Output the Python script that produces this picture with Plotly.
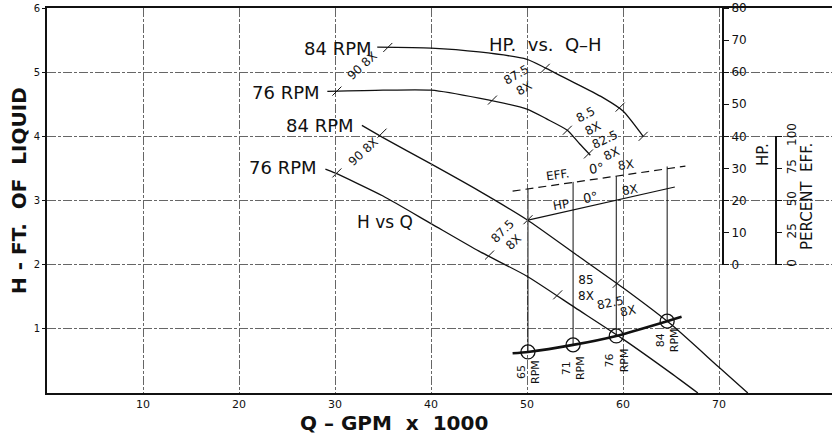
import plotly.graph_objects as go

# ---------------- data ----------------
# Head vs capacity curves (Q in 1000 GPM, H in ft)
q_h84 = [32.8, 35, 40, 45, 50, 55, 60, 65, 70, 73.0]
h_h84 = [4.17, 3.98, 3.57, 3.15, 2.70, 2.17, 1.64, 1.07, 0.40, 0.0]
q_h76 = [29.0, 30, 35, 40, 45, 50, 55, 60, 65, 67.8]
h_h76 = [3.49, 3.43, 3.07, 2.64, 2.21, 1.82, 1.33, 0.84, 0.31, 0.0]

# Horsepower vs Q-H curves (HP)
q_hp84 = [34.4, 40, 45, 50, 52, 55, 58, 60, 62.1]
hp_hp84 = [67.8, 67.5, 66.3, 64.0, 61.2, 56.6, 51.9, 47.9, 40.0]
q_hp76 = [29.2, 35, 40, 45, 50, 52, 54.2, 55.5, 56.6]
hp_hp76 = [54.0, 54.4, 54.4, 51.9, 48.5, 45.5, 41.9, 37.6, 34.1]

# Efficiency at 0 deg blade setting (percent)
q_eff = [48.5, 66.5]
eff = [57.3, 76.8]
# HP at 0 deg blade setting
q_hp0 = [50.1, 65.4]
hp0 = [13.9, 24.2]

# System curve and operating points
q_sys = [48.5, 50.1, 54.8, 59.3, 64.6, 66.1]
h_sys = [0.62, 0.64, 0.75, 0.89, 1.12, 1.19]
q_op = [50.1, 54.8, 59.3, 64.6]
h_op = [0.64, 0.75, 0.89, 1.12]
eff_op = [59.3, 64.5, 69.0, 76.5]
rpm_op = ["65", "71", "76", "84"]

# efficiency tick marks on curves
tick_h84 = ([34.9, 50.1, 59.4], [4.05, 2.70, 1.71])
tick_h76 = ([30.2, 46.1, 53.2], [3.43, 2.15, 1.53])
tick_hp84 = ([35.5, 51.9, 59.7, 62.1], [67.7, 61.2, 49.1, 40.0])
tick_hp76 = ([30.2, 46.4, 54.2, 56.4], [54.1, 51.3, 41.9, 34.5])

x_ticks = [10, 20, 30, 40, 50, 60, 70]
y_ticks = [1, 2, 3, 4, 5, 6]
hp_ticks = [0, 10, 20, 30, 40, 50, 60, 70, 80]
eff_ticks = [0, 25, 50, 75, 100]

FONT = "DejaVu Sans"
BLK = "#111"

fig = go.Figure()

def line(x, y, yaxis="y", width=1.3, dash="solid"):
    fig.add_trace(go.Scatter(x=x, y=y, yaxis=yaxis, mode="lines",
                             line=dict(color=BLK, width=width, dash=dash, shape="spline", smoothing=0.6),
                             hoverinfo="skip", showlegend=False))

def ticks(xy, yaxis="y", sym="line-ne"):
    fig.add_trace(go.Scatter(x=xy[0], y=xy[1], yaxis=yaxis, mode="markers",
                             marker=dict(symbol=sym, size=9, line=dict(color=BLK, width=1)),
                             hoverinfo="skip", showlegend=False))

line(q_h84, h_h84)
line(q_h76, h_h76)
line(q_hp84, hp_hp84, "y2")
line(q_hp76, hp_hp76, "y2")
line(q_eff, eff, "y3", width=1.2, dash="8px,5px")
line(q_hp0, hp0, "y2", width=1.2)
line(q_sys, h_sys, width=2.6)

# vertical construction lines from operating points up to the efficiency line
vx, vy = [], []
for q, h, e in zip(q_op, h_op, eff_op):
    vx += [q, q, None]
    vy += [h, 2 + e / 50.0, None]
fig.add_trace(go.Scatter(x=vx, y=vy, mode="lines", line=dict(color=BLK, width=1),
                         hoverinfo="skip", showlegend=False))

fig.add_trace(go.Scatter(x=q_op, y=h_op, mode="markers",
                         marker=dict(symbol="circle-open", size=14, color=BLK, line=dict(width=1.3)),
                         hoverinfo="skip", showlegend=False))

ticks(tick_h84)
ticks(tick_h76)
ticks(tick_hp84, "y2")
ticks(tick_hp76, "y2")

def px2q(px):
    return (px - 47) / 9.6

def py2h(py):
    return (393 - py) / 64.2

def ann(text, px, py, size=12, angle=0, bold=False):
    t = "<b>%s</b>" % text if bold else text
    fig.add_annotation(x=px2q(px), y=py2h(py), xref="x", yref="y", text=t, showarrow=False,
                       textangle=angle, xanchor="center", yanchor="middle",
                       font=dict(family=FONT, size=size, color=BLK))

ann("84 RPM", 338, 48, 18)
ann("76 RPM", 286, 92, 18)
ann("84 RPM", 320, 125, 18)
ann("76 RPM", 283, 167, 18)
ann("HP.  vs.  Q\u2013H", 545, 44, 18)
ann("H vs Q", 385, 222, 17)
ann("90 8X", 362, 66, 12, -42)
ann("90 8X", 363, 152, 12, -42)
ann("87.5<br>8X", 520, 82, 12, -30)
ann("87.5<br>8X", 508, 237, 12, -45)
ann("8.5<br>8X", 589, 122, 12, -28)
ann("82.5<br>8X", 608, 147, 12, -25)
ann("EFF.", 557, 175, 12, -8)
ann("0\u00b0", 596, 168, 13, -8)
ann("8X", 626, 165, 12, -8)
ann("HP", 561, 205, 12, -10)
ann("0\u00b0", 590, 197, 13, -10)
ann("8X", 630, 190, 12, -10)
ann("85<br>8X", 586, 288, 12, 0)
ann("82.5", 610, 303, 12, -12)
ann("8X", 628, 311, 12, -12)
for q, lab, py in zip(q_op, rpm_op, [372, 368, 360, 340]):
    fig.add_annotation(x=q, y=py2h(py), xref="x", yref="y", text="%s<br>RPM" % lab,
                       showarrow=False, textangle=-90, xanchor="center", yanchor="middle",
                       font=dict(family=FONT, size=11, color=BLK))

def pann(text, px, py, size, angle=0):
    fig.add_annotation(xref="paper", yref="paper", x=(px - 47) / 785, y=(393 - py) / 385,
                       text=text, textangle=angle, showarrow=False,
                       xanchor="center", yanchor="middle",
                       font=dict(family=FONT, size=size, color=BLK))

# axis titles
pann("<b>H - FT.  OF  LIQUID</b>", 19, 191, 20, -90)
pann("<b>Q \u2013 GPM  x  1000</b>", 394, 423, 20)
pann("HP.", 763, 155, 15, -90)
pann("PERCENT  EFF.", 807, 197, 15, -90)

grid = dict(showgrid=True, gridcolor="#666", gridwidth=1, griddash="9px,2px,3px,2px", zeroline=False)
fig.update_layout(
    width=832, height=436,
    margin=dict(l=47, r=0, t=8, b=43, autoexpand=False),
    paper_bgcolor="white", plot_bgcolor="rgba(0,0,0,0)",
    font=dict(family=FONT, color=BLK),
    xaxis=dict(range=[0, 785 / 9.6], tickvals=x_ticks, showline=True, linecolor=BLK,
               linewidth=2, mirror=True, ticks="", tickfont=dict(size=11), automargin=False, **grid),
    yaxis=dict(range=[0, 6], tickvals=y_ticks, showline=True, linecolor=BLK, linewidth=2,
               ticks="outside", ticklen=3, tickcolor=BLK, tickfont=dict(size=10),
               automargin=False, **grid),
    yaxis2=dict(domain=[1 / 3, 1], range=[0, 80], anchor="free", position=(723 - 47) / 785,
                side="right", showline=True, linecolor=BLK, linewidth=2, ticks="outside",
                ticklen=5, tickcolor=BLK, tickvals=hp_ticks, showgrid=False, zeroline=False,
                tickfont=dict(size=12), automargin=False),
    yaxis3=dict(domain=[1 / 3, 2 / 3], range=[0, 100], anchor="free", position=(776 - 47) / 785,
                side="right", showline=True, linecolor=BLK, linewidth=1.5, ticks="outside",
                ticklen=5, tickcolor=BLK, tickvals=eff_ticks, tickangle=-90, showgrid=False,
                zeroline=False, tickfont=dict(size=12), automargin=False),
)

fig.write_html("out.html")
